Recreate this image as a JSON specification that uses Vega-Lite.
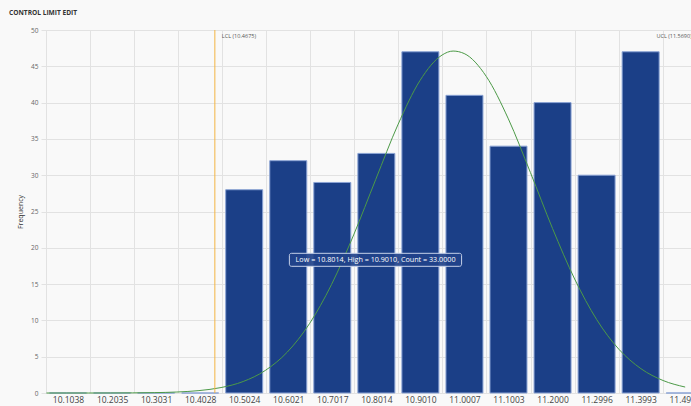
{
  "$schema": "https://vega.github.io/schema/vega-lite/v6.json",
  "width": 650,
  "height": 363,
  "autosize": {"type": "none"},
  "padding": {"left": 41, "top": 30, "right": 0, "bottom": 13},
  "background": "#f9f9f9",
  "config": {
    "view": {"stroke": null, "fill": "#f9f9f9"},
    "font": "Open Sans",
    "axisY": {
      "values": [0, 5, 10, 15, 20, 25, 30, 35, 40, 45, 50],
      "grid": true, "gridColor": "#e2e2e2", "ticks": false, "domain": false,
      "labelFontSize": 6.5, "labelColor": "#666666", "labelPadding": 3,
      "titleFontSize": 7, "titleFontWeight": "normal", "titleColor": "#333333", "titlePadding": 7
    }
  },
  "title": {"text": "CONTROL LIMIT EDIT", "anchor": "start", "frame": "group", "dx": -32, "offset": 10, "fontSize": 6.6, "fontWeight": "bold", "color": "#333333", "font": "Open Sans"},
  "datasets": {
    "bins": [
      {"low": 10.1038, "high": 10.2035, "count": 0},
      {"low": 10.2035, "high": 10.3031, "count": 0},
      {"low": 10.3031, "high": 10.4028, "count": 0},
      {"low": 10.4028, "high": 10.5024, "count": 0},
      {"low": 10.5024, "high": 10.6021, "count": 28},
      {"low": 10.6021, "high": 10.7017, "count": 32},
      {"low": 10.7017, "high": 10.8014, "count": 29},
      {"low": 10.8014, "high": 10.9010, "count": 33},
      {"low": 10.9010, "high": 11.0007, "count": 47},
      {"low": 11.0007, "high": 11.1003, "count": 41},
      {"low": 11.1003, "high": 11.2000, "count": 34},
      {"low": 11.2000, "high": 11.2996, "count": 40},
      {"low": 11.2996, "high": 11.3993, "count": 30},
      {"low": 11.3993, "high": 11.4989, "count": 47},
      {"low": 11.4989, "high": 11.5986, "count": 0}
    ],
    "curve": [
      {"x": 10.055, "density": 0},
      {"x": 10.10, "density": 0.0005},
      {"x": 10.15, "density": 0.002},
      {"x": 10.20, "density": 0.006},
      {"x": 10.25, "density": 0.018},
      {"x": 10.30, "density": 0.051},
      {"x": 10.35, "density": 0.135},
      {"x": 10.40, "density": 0.33},
      {"x": 10.45, "density": 0.75},
      {"x": 10.50, "density": 1.58},
      {"x": 10.55, "density": 3.10},
      {"x": 10.60, "density": 5.64},
      {"x": 10.65, "density": 9.54},
      {"x": 10.70, "density": 14.95},
      {"x": 10.75, "density": 21.77},
      {"x": 10.80, "density": 29.42},
      {"x": 10.85, "density": 36.93},
      {"x": 10.90, "density": 43.03},
      {"x": 10.95, "density": 46.55},
      {"x": 10.975, "density": 47.1},
      {"x": 11.00, "density": 46.76},
      {"x": 11.05, "density": 43.61},
      {"x": 11.10, "density": 37.76},
      {"x": 11.15, "density": 30.36},
      {"x": 11.20, "density": 22.66},
      {"x": 11.25, "density": 15.70},
      {"x": 11.30, "density": 10.10},
      {"x": 11.35, "density": 6.03},
      {"x": 11.40, "density": 3.35},
      {"x": 11.45, "density": 1.72},
      {"x": 11.50, "density": 0.82}
    ],
    "limits": [
      {"limit": "LCL", "pos": 10.436, "label": "LCL (10.4675)"},
      {"limit": "UCL", "pos": 11.5353, "label": "UCL (11.5690)"}
    ],
    "tip": [
      {"x1": 10.6046, "x2": 10.9942, "xm": 10.7996, "y1": 19.24, "y2": 17.45, "ym": 18.35, "text": "Low = 10.8014, High = 10.9010, Count = 33.0000"}
    ]
  },
  "layer": [
    {
      "data": {"name": "bins"},
      "mark": {"type": "bar", "width": 37, "color": "#1b3f87", "stroke": "#8aa3d4", "strokeWidth": 1},
      "encoding": {
        "x": {
          "field": "low", "type": "quantitative",
          "scale": {"domain": [10.054, 11.5019], "nice": false, "zero": false},
          "axis": {
            "values": [10.1038, 10.2035, 10.3031, 10.4028, 10.5024, 10.6021, 10.7017, 10.8014, 10.9010, 11.0007, 11.1003, 11.2000, 11.2996, 11.3993, 11.4989],
            "format": ".4f", "grid": false, "ticks": false, "domain": false, "title": null,
            "labelFontSize": 8.5, "labelColor": "#444444", "labelPadding": 2,
            "labelOverlap": false, "labelBound": false, "labelFlush": false
          }
        },
        "y": {
          "field": "count", "type": "quantitative",
          "scale": {"domain": [0, 50], "nice": false},
          "title": "Frequency"
        }
      }
    },
    {
      "data": {"name": "curve"},
      "mark": {"type": "line", "color": "#4c9a47", "strokeWidth": 1, "interpolate": "monotone"},
      "encoding": {
        "x": {
          "field": "x", "type": "quantitative",
          "axis": {
            "orient": "top",
            "values": [10.0540, 10.1537, 10.2533, 10.3530, 10.4526, 10.5523, 10.6519, 10.7516, 10.8512, 10.9509, 11.0505, 11.1502, 11.2498, 11.3495, 11.4491],
            "grid": true, "gridColor": "#e2e2e2", "labels": false, "ticks": false, "domain": false, "title": null
          }
        },
        "y": {"field": "density", "type": "quantitative", "title": "Frequency"}
      }
    },
    {
      "data": {"name": "limits"},
      "mark": {"type": "rule", "color": "#f3b443", "strokeWidth": 1},
      "encoding": {
        "x": {"field": "pos", "type": "quantitative", "axis": null}
      }
    },
    {
      "data": {"name": "limits"},
      "transform": [{"filter": "datum.limit === 'LCL'"}],
      "mark": {"type": "text", "align": "left", "baseline": "top", "dx": 7, "dy": 4, "fontSize": 5.5, "color": "#555555"},
      "encoding": {
        "x": {"field": "pos", "type": "quantitative", "axis": null},
        "y": {"datum": 50, "type": "quantitative", "title": "Frequency"},
        "text": {"field": "label"}
      }
    },
    {
      "data": {"name": "limits"},
      "transform": [{"filter": "datum.limit === 'UCL'"}],
      "mark": {"type": "text", "align": "right", "baseline": "top", "dx": -9, "dy": 4, "fontSize": 5.5, "color": "#555555"},
      "encoding": {
        "x": {"field": "pos", "type": "quantitative", "axis": null},
        "y": {"datum": 50, "type": "quantitative", "title": "Frequency"},
        "text": {"field": "label"}
      }
    },
    {
      "data": {"name": "tip"},
      "mark": {"type": "rect", "fill": "#21428a", "fillOpacity": 0.92, "stroke": "#c5d0e8", "strokeWidth": 1, "cornerRadius": 2},
      "encoding": {
        "x": {"field": "x1", "type": "quantitative", "axis": null},
        "x2": {"field": "x2"},
        "y": {"field": "y1", "type": "quantitative", "title": "Frequency"},
        "y2": {"field": "y2"}
      }
    },
    {
      "data": {"name": "tip"},
      "mark": {"type": "text", "align": "center", "baseline": "middle", "fontSize": 7.2, "color": "#ffffff"},
      "encoding": {
        "x": {"field": "xm", "type": "quantitative", "axis": null},
        "y": {"field": "ym", "type": "quantitative", "title": "Frequency"},
        "text": {"field": "text"}
      }
    }
  ],
  "resolve": {"scale": {"x": "shared", "y": "shared"}, "axis": {"x": "independent"}}
}
